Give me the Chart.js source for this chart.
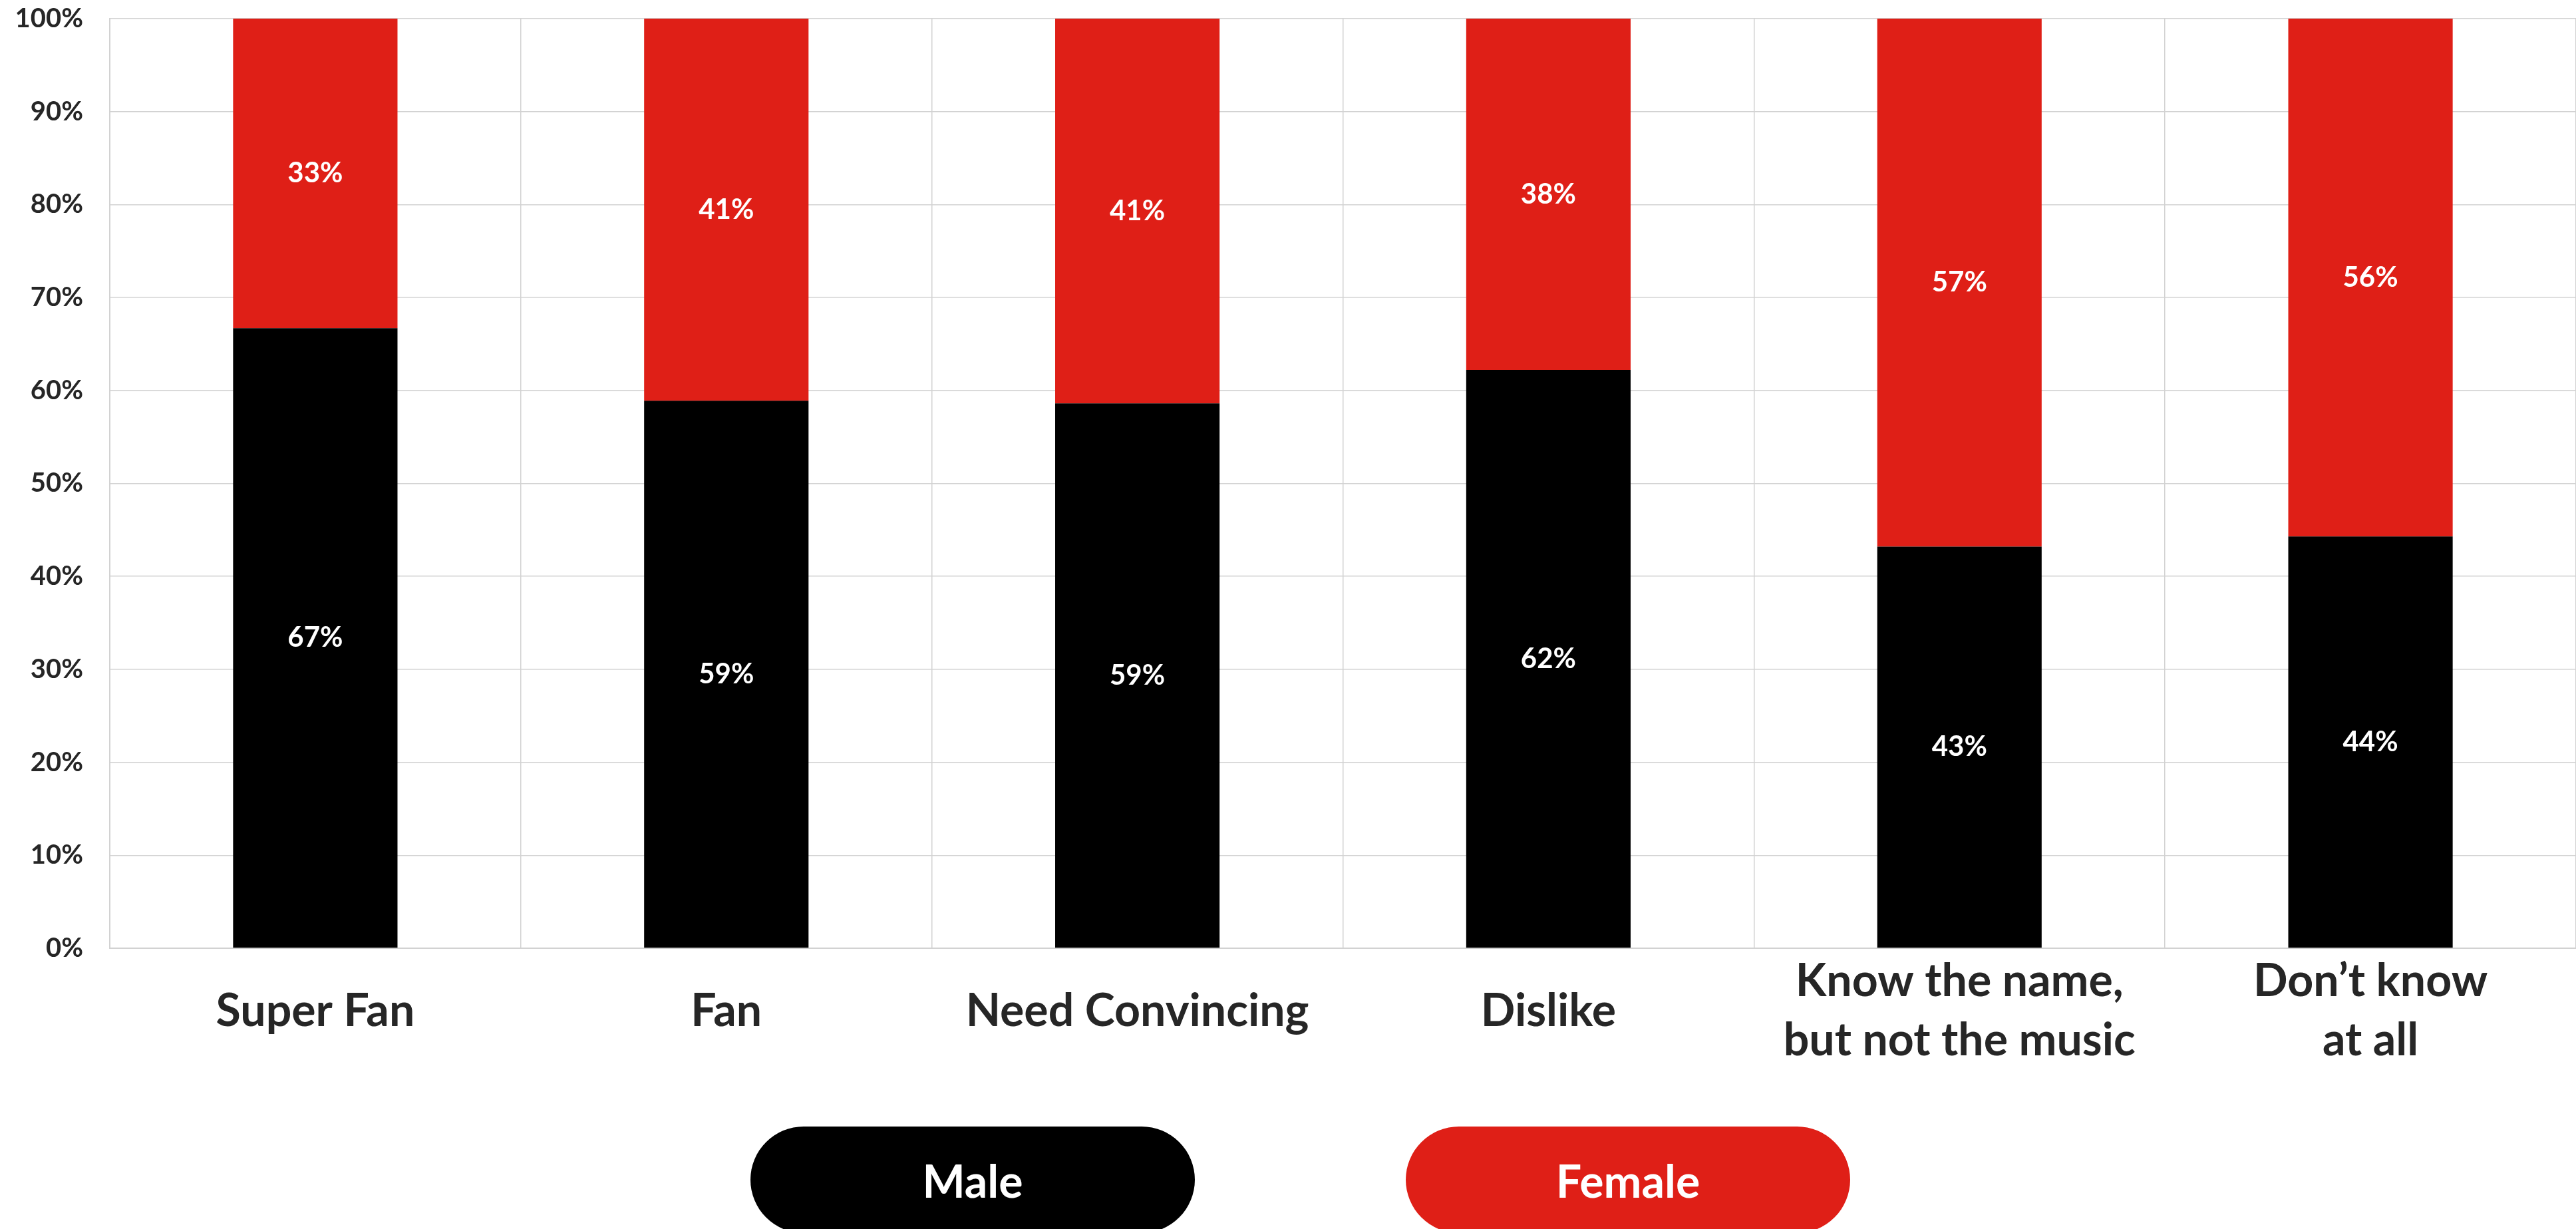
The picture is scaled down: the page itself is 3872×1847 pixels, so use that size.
<!DOCTYPE html>
<html>
<head>
<meta charset="utf-8">
<script src="https://cdn.jsdelivr.net/npm/chart.js@4.4.1/dist/chart.umd.min.js"></script>
<style>
  html, body { margin: 0; padding: 0; background: #fff; }
  #wrap { position: relative; width: 3872px; height: 1847px; overflow: hidden; }
  #legenda { position: absolute; left: 0; top: 1693px; width: 3872px; height: 160px; }
  .pill { position: absolute; top: 0; width: 668px; height: 160px; border-radius: 80px;
          color: #fff; font: 700 68px Lato, sans-serif;
          display: flex; align-items: center; justify-content: center; }
</style>
</head>
<body>
<div id="wrap">
  <canvas id="grafico" width="3872" height="1847"></canvas>
  <div id="legenda"></div>
</div>
<script>
const categorias = ['Super Fan', 'Fan', 'Need Convincing', 'Dislike', ['Know the name,', 'but not the music'], ['Don’t know', 'at all']]
const masculino = [66.7, 58.9, 58.6, 62.2, 43.2, 44.3]
const feminino = [33.3, 41.1, 41.4, 37.8, 56.8, 55.7]
const series = ['Male', 'Female']
const cores = ['#000000', '#DF1F17']
const posLegenda = [1128, 2113]

const cinza = '#d2d2d2'
const texto = '#262626'
const linhaX = 89

// rotulos brancos no meio de cada segmento
const rotulos = {
    id: 'rotulos',
    afterDatasetsDraw(chart) {
        const ctx = chart.ctx
        ctx.save()
        ctx.fillStyle = '#fff'
        ctx.font = 'bold 42px Lato'
        ctx.textAlign = 'center'
        ctx.textBaseline = 'middle'
        chart.data.datasets.forEach((ds, i) => {
            chart.getDatasetMeta(i).data.forEach((bar, j) => {
                ctx.fillText(Math.round(ds.data[j]) + '%', bar.x, (bar.y + bar.base) / 2)
            })
        })
        ctx.restore()
    }
}

function criarGraf() {
    const ctx = document.getElementById('grafico').getContext('2d')

    new Chart(ctx, {
        type: 'bar',
        data: {
            labels: categorias,
            datasets: [
                { label: series[0], data: masculino, backgroundColor: cores[0], borderWidth: 0 },
                { label: series[1], data: feminino, backgroundColor: cores[1], borderWidth: 0 }
            ]
        },
        options: {
            responsive: false,
            animation: false,
            maintainAspectRatio: false,
            layout: { padding: 0 },
            datasets: { bar: { categoryPercentage: 1, barPercentage: 0.4 } },
            plugins: {
                legend: { display: false },
                tooltip: { enabled: false }
            },
            scales: {
                x: {
                    stacked: true,
                    grid: { color: cinza, lineWidth: 1.5, drawTicks: false },
                    border: { color: cinza, width: 2 },
                    ticks: {
                        color: texto,
                        padding: 6,
                        maxRotation: 0,
                        autoSkip: false,
                        // rotulos de uma linha ficam centrados entre as duas linhas dos outros
                        font: function (c) {
                            const lab = categorias[c.index]
                            const lh = Array.isArray(lab) ? linhaX : linhaX * 2
                            return { family: 'Lato', weight: 'bold', size: 68, lineHeight: lh + 'px' }
                        }
                    },
                    afterFit: function (scale) { scale.height = 1847 - 1425 }
                },
                y: {
                    stacked: true,
                    min: 0,
                    max: 100,
                    grid: { color: cinza, lineWidth: 1.5, drawTicks: false },
                    border: { color: cinza, width: 2 },
                    ticks: {
                        stepSize: 10,
                        color: texto,
                        padding: 40,
                        font: { family: 'Lato', weight: 'bold', size: 40 },
                        callback: function (value) {
                            return value + '%'
                        }
                    },
                    afterFit: function (scale) {
                        scale.width = 165
                        scale.paddingTop = 28
                        scale.paddingBottom = 0
                    }
                }
            }
        },
        plugins: [rotulos]
    })
}

function criarLegenda() {
    const leg = document.getElementById('legenda')
    series.forEach((nome, i) => {
        const d = document.createElement('div')
        d.className = 'pill'
        d.style.left = posLegenda[i] + 'px'
        d.style.background = cores[i]
        d.textContent = nome
        leg.appendChild(d)
    })
}

criarGraf()
criarLegenda()
</script>
</body>
</html>
